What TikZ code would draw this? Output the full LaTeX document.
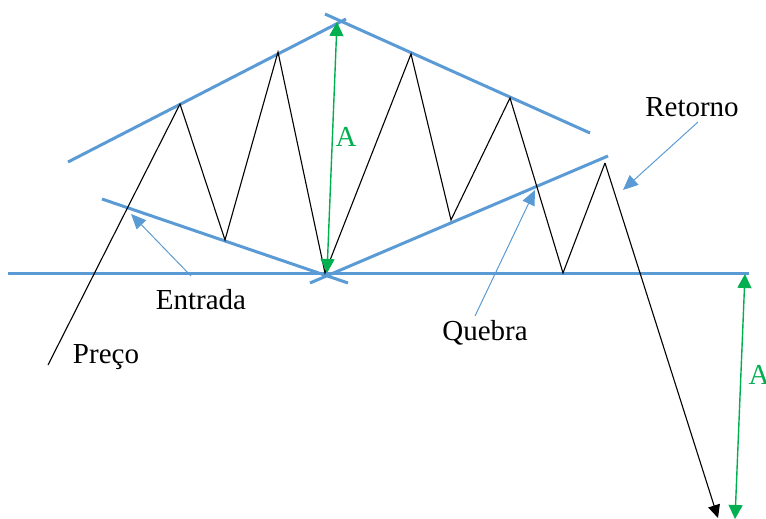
\documentclass[tikz,border=0pt]{standalone}
\usepackage{fontspec}
\setmainfont{Liberation Serif}
\usetikzlibrary{arrows.meta}

\definecolor{trendblue}{RGB}{91,155,213}
\definecolor{measgreen}{RGB}{0,176,80}

\tikzset{
  trend/.style={trendblue,line width=3pt},
  price/.style={black,line width=1.1pt},
  pointer/.style={trendblue,line width=1pt,-{Triangle[length=15pt,width=13pt]}},
  measure/.style={measgreen,line width=1.4pt,{Triangle[length=14pt,width=14pt]}-{Triangle[length=14pt,width=14pt]}},
  tag/.style={font=\fontsize{29}{32}\selectfont,inner sep=0pt}
}

\begin{document}
\begin{tikzpicture}[x=1pt,y=-1pt]
\useasboundingbox (0,0) rectangle (766,519);

% linhas de tendencia
\coordinate (ul1) at (68,162);   \coordinate (ul2) at (346,19);
\coordinate (ur1) at (325,14);   \coordinate (ur2) at (590,133);
\coordinate (ll1) at (102,199);  \coordinate (ll2) at (348,283);
\coordinate (lr1) at (310,283);  \coordinate (lr2) at (608,156);
\coordinate (nk1) at (8,273);    \coordinate (nk2) at (749,273);

\draw[trend] (ul1) -- (ul2);
\draw[trend] (ur1) -- (ur2);
\draw[trend] (ll1) -- (ll2);
\draw[trend] (lr1) -- (lr2);
\draw[trend] (nk1) -- (nk2);

% preco
\coordinate (p0) at (48,365);
\coordinate (p1) at (180,104);
\coordinate (p2) at (225,240);
\coordinate (p3) at (278,52);
\coordinate (p4) at (325,273);
\coordinate (p5) at (411,54);
\coordinate (p6) at (451,220);
\coordinate (p7) at (510,98);
\coordinate (p8) at (563,273);
\coordinate (p9) at (605,163);
\coordinate (p10) at (718,518);

\draw[price] (p0) -- (p1) -- (p2) -- (p3) -- (p4) -- (p5) -- (p6) -- (p7) -- (p8) -- (p9);
\draw[price,-{Triangle[length=13pt,width=12pt]}] (p9) -- (p10);

% amplitude A
\coordinate (a1) at (327,273);  \coordinate (a2) at (337,22);
\coordinate (b1) at (745,274);  \coordinate (b2) at (735,519);
\draw[measure] (a1) -- (a2);
\draw[measure] (b1) -- (b2);
\node[tag,text=measgreen] (la) at (346,137) {A};
\node[tag,text=measgreen] (lb) at (759,375) {A};

% rotulos
\node[tag] (entrada) at (201,300) {Entrada};
\node[tag] (quebra) at (485,333) {Quebra};
\node[tag] (preco) at (106,357) {Preço};
\node[tag] (retorno) at (692,107) {Retorno};

\coordinate (e1) at (191,276);  \coordinate (e2) at (131,214);
\coordinate (q1) at (475,316);  \coordinate (q2) at (535,190);
\coordinate (r1) at (698,122);  \coordinate (r2) at (623,190);
\draw[pointer] (e1) -- (e2);
\draw[pointer] (q1) -- (q2);
\draw[pointer] (r1) -- (r2);

\end{tikzpicture}
\end{document}
